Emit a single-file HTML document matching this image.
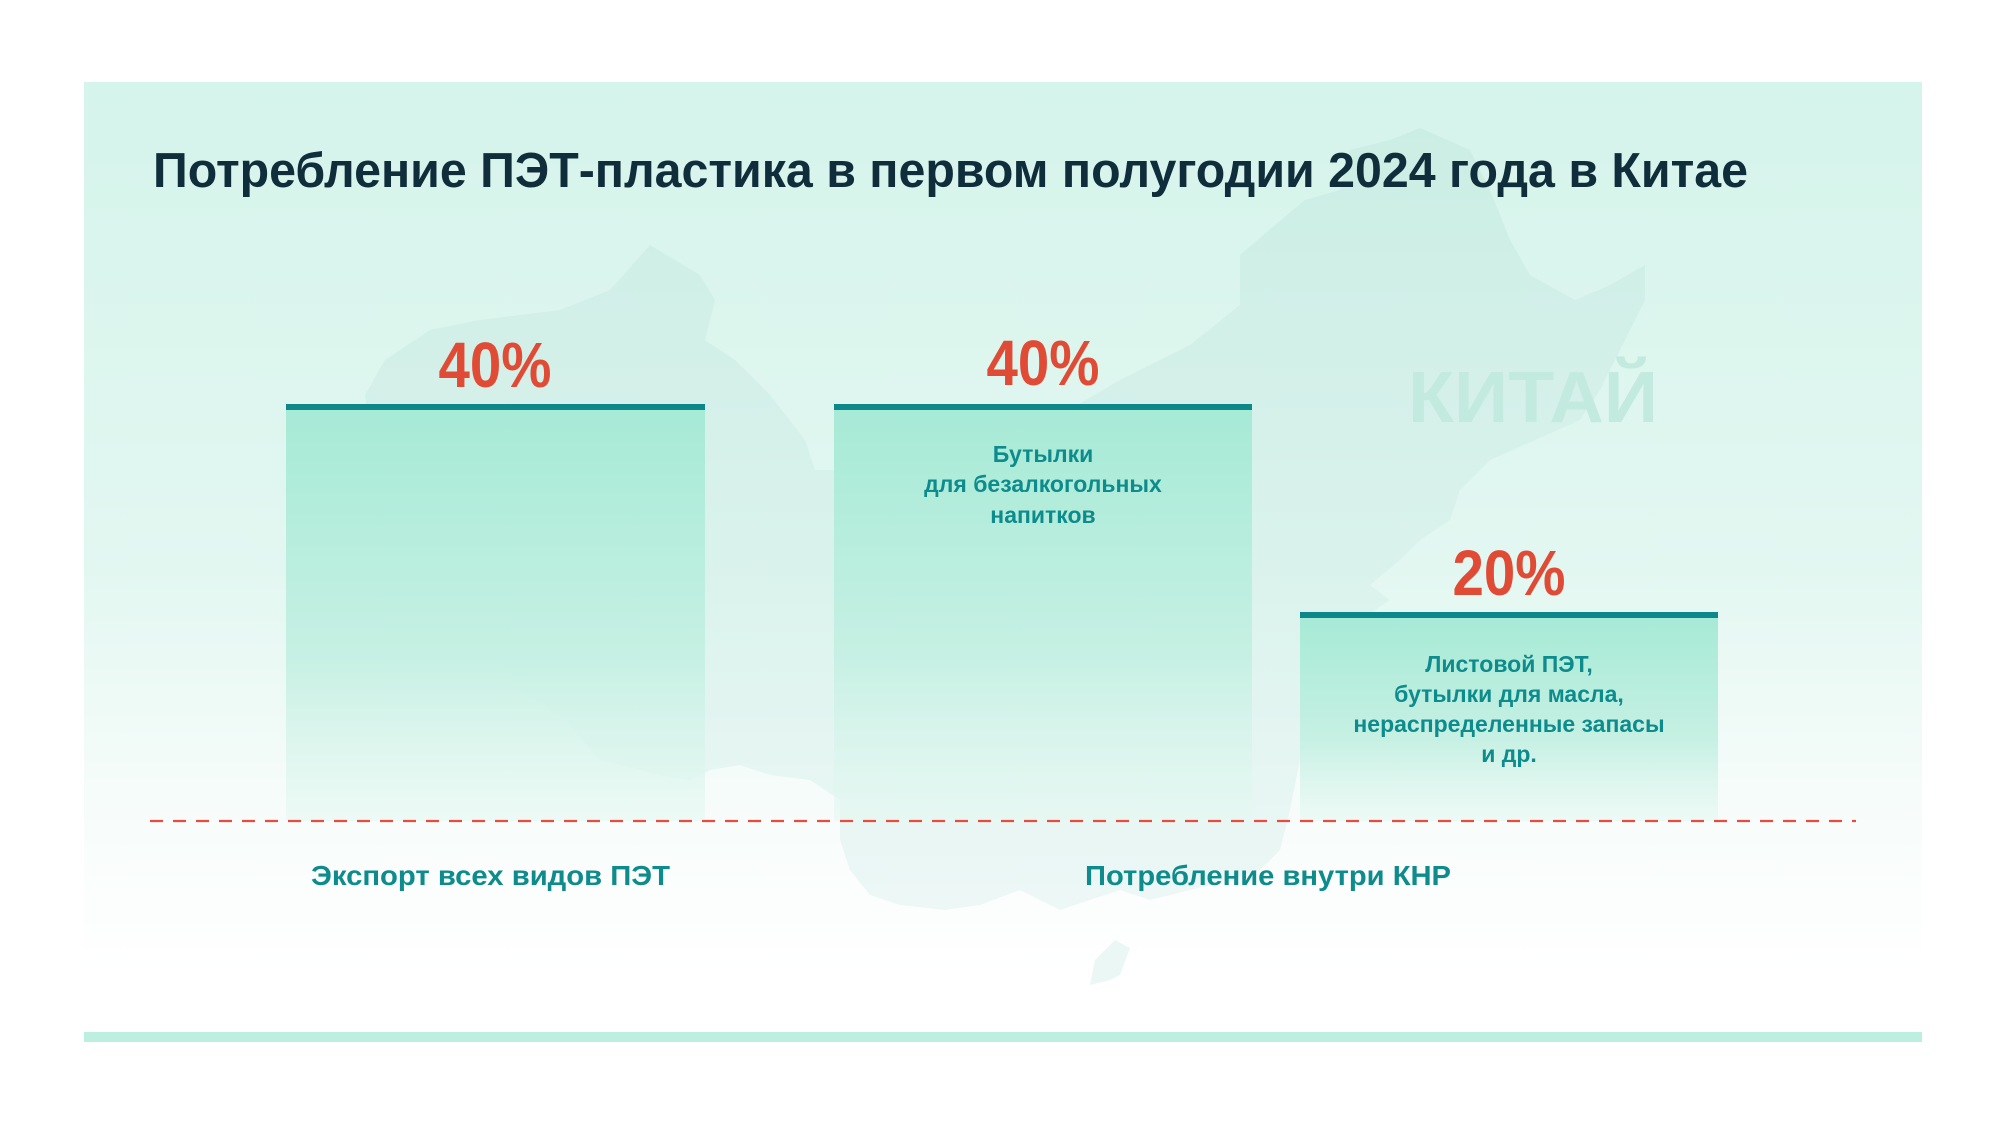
<!DOCTYPE html>
<html><head><meta charset="utf-8"><style>
html,body{margin:0;padding:0;background:#fff;}
svg{display:block;}
text{font-family:"Liberation Sans",sans-serif;font-weight:bold;}
</style></head><body>
<svg width="2000" height="1125" viewBox="0 0 2000 1125" xmlns="http://www.w3.org/2000/svg">
<defs>
<linearGradient id="bg" x1="0" y1="0" x2="0" y2="1">
<stop offset="0" stop-color="#d5f4eb"/>
<stop offset="0.55" stop-color="#e3f7f1"/>
<stop offset="0.8" stop-color="#f6fcfa"/>
<stop offset="1" stop-color="#ffffff"/>
</linearGradient>
<linearGradient id="bar" x1="0" y1="0" x2="0" y2="1">
<stop offset="0" stop-color="#a6ead6"/>
<stop offset="0.6" stop-color="#c6f0e3"/>
<stop offset="1" stop-color="#e6f8f2" stop-opacity="0.6"/>
</linearGradient>
<linearGradient id="map" x1="0" y1="0" x2="0" y2="1">
<stop offset="0" stop-color="#c6ebe1" stop-opacity="0.7"/>
<stop offset="1" stop-color="#e2f3f1" stop-opacity="0.6"/>
</linearGradient>
</defs>
<rect x="84" y="82" width="1838" height="890" fill="url(#bg)"/>
<path fill="url(#map)" d="M560 310 L610 290 L650 245 L700 275 L715 300 L705 340 L735 360 L770 395 L805 440 L815 470 L860 470 L940 460 L1000 420 L1060 415 L1120 380 L1190 345 L1240 305 L1240 255 L1275 225 L1305 200 L1340 190 L1350 150 L1390 140 L1420 128 L1470 150 L1490 190 L1510 240 L1530 275 L1575 300 L1610 285 L1645 265 L1645 300 L1620 350 L1600 390 L1580 420 L1535 440 L1490 460 L1460 490 L1450 520 L1420 540 L1400 560 L1370 585 L1390 600 L1360 620 L1340 640 L1330 660 L1320 710 L1300 760 L1290 810 L1280 850 L1260 870 L1210 885 L1150 900 L1120 890 L1090 900 L1060 910 L1020 890 L980 905 L945 910 L900 905 L870 895 L850 870 L840 840 L840 800 L810 780 L770 775 L740 765 L710 770 L690 780 L660 775 L640 770 L600 760 L565 720 L520 690 L490 650 L460 610 L450 570 L430 540 L410 520 L400 480 L375 460 L370 430 L365 395 L385 360 L430 330 L480 320 Z"/>
<path fill="#e6f5f3" opacity="0.8" d="M1095 960 L1115 940 L1130 948 L1120 975 L1110 980 L1090 985 Z"/>
<text x="153" y="187" font-size="49" fill="#0f2d3a" textLength="1595" lengthAdjust="spacingAndGlyphs">Потребление ПЭТ-пластика в первом полугодии 2024 года в Китае</text>
<text x="1533" y="422" font-size="72" fill="#c2eadf" text-anchor="middle" textLength="250" lengthAdjust="spacingAndGlyphs">КИТАЙ</text>
<rect x="286" y="406" width="419" height="415" fill="url(#bar)"/>
<rect x="286" y="404" width="419" height="6" fill="#0c878a"/>
<rect x="834" y="406" width="418" height="415" fill="url(#bar)"/>
<rect x="834" y="404" width="418" height="6" fill="#0c878a"/>
<rect x="1300" y="615" width="418" height="206" fill="url(#bar)"/>
<rect x="1300" y="612" width="418" height="6" fill="#0c878a"/>
<g fill="#e04b36" font-size="64" text-anchor="middle">
<text x="495" y="387" textLength="113" lengthAdjust="spacingAndGlyphs">40%</text>
<text x="1043" y="385" textLength="113" lengthAdjust="spacingAndGlyphs">40%</text>
<text x="1509" y="595" textLength="113" lengthAdjust="spacingAndGlyphs">20%</text>
</g>
<g fill="#0e8b8c" font-size="23" text-anchor="middle">
<text x="1043" y="462">Бутылки</text>
<text x="1043" y="492">для безалкогольных</text>
<text x="1043" y="523">напитков</text>
<text x="1509" y="672">Листовой ПЭТ,</text>
<text x="1509" y="702">бутылки для масла,</text>
<text x="1509" y="732">нераспределенные запасы</text>
<text x="1509" y="762">и др.</text>
</g>
<line x1="150" y1="821" x2="1856" y2="821" stroke="#e84c3d" stroke-width="2.2" stroke-dasharray="13,10"/>
<g fill="#0e8b8c" font-size="28">
<text x="311" y="885" textLength="359" lengthAdjust="spacingAndGlyphs">Экспорт всех видов ПЭТ</text>
<text x="1085" y="885" textLength="366" lengthAdjust="spacingAndGlyphs">Потребление внутри КНР</text>
</g>
<rect x="84" y="1032" width="1838" height="10" fill="#bcefe0"/>
</svg>
</body></html>
